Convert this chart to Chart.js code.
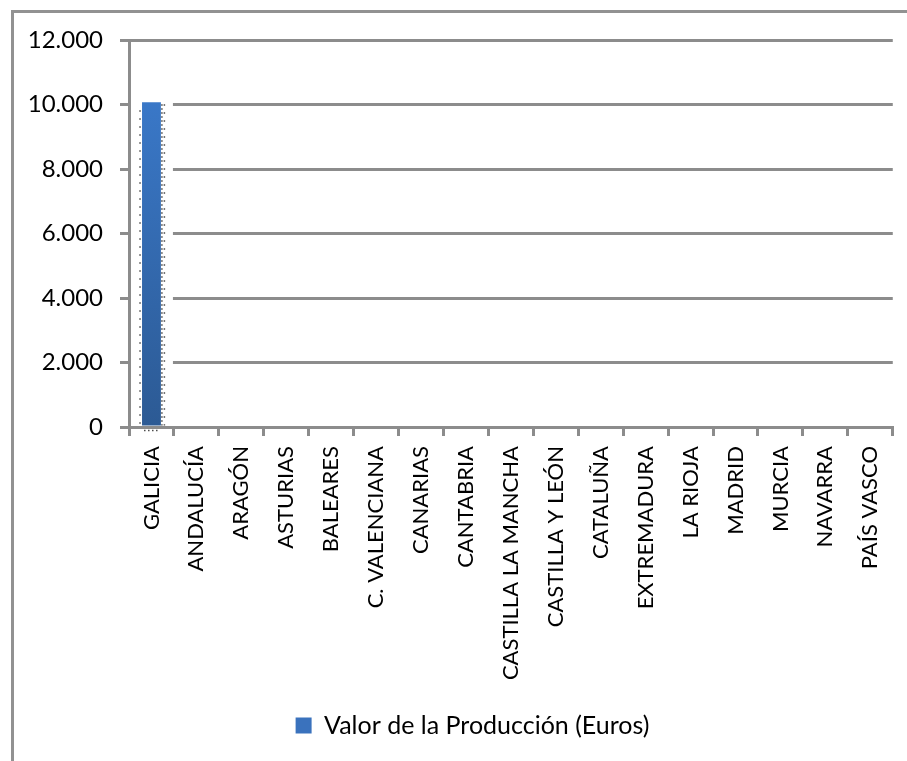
<!DOCTYPE html>
<html>
<head>
<meta charset="utf-8">
<script src="https://cdn.jsdelivr.net/npm/chart.js@4"></script>
<style>
  html, body { margin: 0; padding: 0; background: #ffffff; }
  canvas { display: block; }
</style>
</head>
<body>
<canvas id="c" width="907" height="761"></canvas>
<script>
const categories = ['GALICIA', 'ANDALUCÍA', 'ARAGÓN', 'ASTURIAS', 'BALEARES', 'C. VALENCIANA', 'CANARIAS', 'CANTABRIA', 'CASTILLA LA MANCHA', 'CASTILLA Y LEÓN', 'CATALUÑA', 'EXTREMADURA', 'LA RIOJA', 'MADRID', 'MURCIA', 'NAVARRA', 'PAÍS VASCO'];
const valores = [10070, 0, 0, 0, 0, 0, 0, 0, 0, 0, 0, 0, 0, 0, 0, 0, 0];
const seriesName = 'Valor de la Producción (Euros)';
const yMin = 0, yMax = 12000, yStep = 2000;

const FONT = 'Lato, "Open Sans", sans-serif';
const GRID = '#8c8c8c';

function barGradient(ctx) {
  const chart = ctx.chart;
  const area = chart.chartArea;
  if (!area) return '#3a78c8';
  const g = chart.ctx.createLinearGradient(0, area.top, 0, area.bottom);
  g.addColorStop(0, '#3c7dd1');
  g.addColorStop(1, '#2c5a94');
  return g;
}

const framePlugin = {
  id: 'frame',
  beforeDraw(chart) {
    const c = chart.ctx;
    c.save();
    c.fillStyle = '#ffffff';
    c.fillRect(0, 0, chart.width, chart.height);
    c.strokeStyle = '#929292';
    c.lineWidth = 3;
    c.strokeRect(12.5, 11.5, chart.width + 50, chart.height + 50);
    c.restore();
  }
};

// legend in the reference sits right of the canvas centre
const legendShift = {
  id: 'legendShift',
  afterLayout(chart) {
    if (chart.legend) chart.legend.left = 48;
  }
};

// first category area shows no gridlines in the reference
const gapPlugin = {
  id: 'gap',
  beforeDatasetsDraw(chart) {
    const x = chart.scales.x, y = chart.scales.y;
    const half = (x.getPixelForValue(1) - x.getPixelForValue(0)) / 2;
    const c = chart.ctx;
    c.save();
    c.fillStyle = '#ffffff';
    c.fillRect(x.left + 2, y.top + 3, x.getPixelForValue(0) + half - 1 - (x.left + 2), y.bottom - y.top - 6);
    c.restore();
  }
};

const dotPlugin = {
  id: 'dots',
  afterDatasetsDraw(chart) {
    const meta = chart.getDatasetMeta(0);
    const c = chart.ctx;
    c.save();
    c.strokeStyle = '#4a4a4a';
    c.lineWidth = 1.5;
    meta.data.forEach((bar, i) => {
      if (!valores[i]) return;
      const p = bar.getProps(['x', 'y', 'base', 'width'], true);
      const l = p.x - p.width / 2, r = p.x + p.width / 2;
      c.setLineDash([1.5, 6.5]);
      c.beginPath();
      c.moveTo(l - 2, p.y + 8); c.lineTo(l - 2, p.base);
      c.moveTo(r + 3.5, p.y + 2); c.lineTo(r + 3.5, p.base);
      c.stroke();
      c.setLineDash([1.5, 2.5]);
      c.beginPath();
      c.moveTo(r + 1, p.y + 2); c.lineTo(r + 1, p.base);
      c.moveTo(l + 2, p.base + 5); c.lineTo(r - 2, p.base + 5);
      c.stroke();
    });
    c.restore();
  }
};

new Chart(document.getElementById('c'), {
  type: 'bar',
  data: {
    labels: categories,
    datasets: [{
      label: seriesName,
      data: valores,
      backgroundColor: barGradient,
      borderWidth: 0,
      barPercentage: 0.42,
      categoryPercentage: 1.0
    }]
  },
  options: {
    responsive: false,
    devicePixelRatio: 1,
    animation: false,
    layout: { padding: { left: 0, right: 10, top: 40, bottom: 13 } },
    plugins: {
      tooltip: { enabled: false },
      legend: {
        position: 'bottom',
        labels: {
          color: '#000000',
          font: { family: FONT, size: 25 },
          boxWidth: 16,
          boxHeight: 16,
          padding: 10,
          generateLabels(chart) {
            return [{
              text: seriesName,
              fillStyle: '#3a72bd',
              strokeStyle: '#3a72bd',
              lineWidth: 0,
              datasetIndex: 0
            }];
          }
        }
      }
    },
    scales: {
      x: {
        offset: true,
        grid: {
          offset: true,
          drawOnChartArea: false,
          drawTicks: true,
          tickLength: 9,
          color: GRID,
          lineWidth: 3
        },
        border: { display: true, color: GRID, width: 3 },
        ticks: {
          autoSkip: false,
          minRotation: 90,
          maxRotation: 90,
          padding: 10,
          color: '#000000',
          font: { family: FONT, size: 22 }
        },
        afterFit(scale) { scale.height = 276; }
      },
      y: {
        min: yMin,
        max: yMax,
        grid: {
          color: GRID,
          lineWidth: 3,
          tickLength: 9,
          drawTicks: true
        },
        border: { display: true, color: GRID, width: 3 },
        ticks: {
          stepSize: yStep,
          padding: 17,
          color: '#000000',
          font: { family: FONT, size: 24 },
          callback(v) { return v.toLocaleString('de-DE'); }
        },
        afterFit(scale) { scale.width = 129; }
      }
    }
  },
  plugins: [framePlugin, legendShift, gapPlugin, dotPlugin]
});
</script>
</body>
</html>
